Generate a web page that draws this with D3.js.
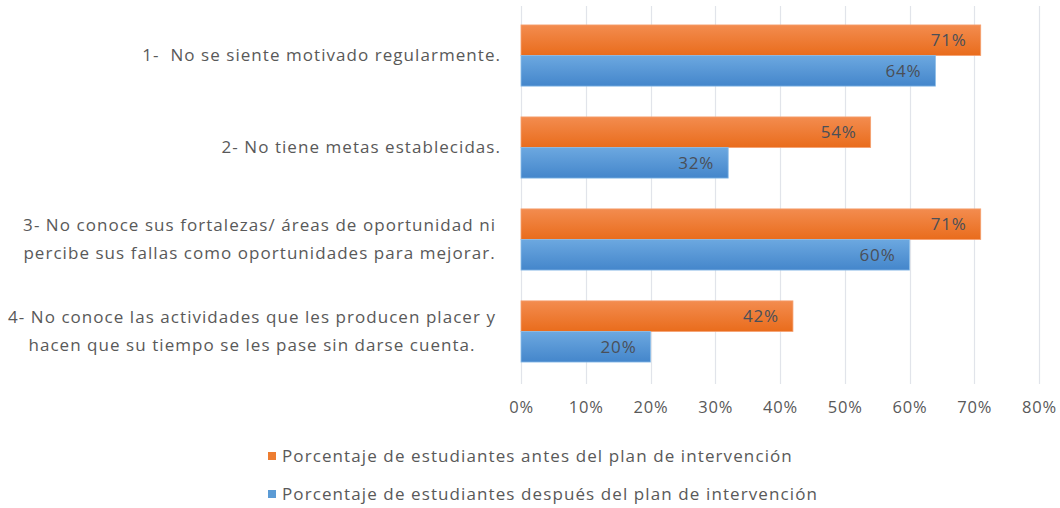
<!DOCTYPE html>
<html>
<head>
<meta charset="utf-8">
<script src="https://cdn.jsdelivr.net/npm/d3@7"></script>
<style>
  body { margin: 0; background: #fff; }
  svg { display: block; font-family: "Open Sans", "Noto Sans", sans-serif; }
  text { white-space: pre; }
</style>
</head>
<body>
<svg id="chart" width="1060" height="508"></svg>
<script>
const categories = [
    ['1-  No se siente motivado regularmente.'],
    ['2- No tiene metas establecidas.'],
    ['3- No conoce sus fortalezas/ áreas de oportunidad ni', 'percibe sus fallas como oportunidades para mejorar.'],
    ['4- No conoce las actividades que les producen placer y', 'hacen que su tiempo se les pase sin darse cuenta.']
];
const seriesNames = [
    'Porcentaje de estudiantes antes del plan de intervención',
    'Porcentaje de estudiantes después del plan de intervención'
];
const antes = [0.71, 0.54, 0.71, 0.42];
const despues = [0.64, 0.32, 0.60, 0.20];
const xTicks = [0, 0.1, 0.2, 0.3, 0.4, 0.5, 0.6, 0.7, 0.8];

const svg = d3.select('#chart');
const plotLeft = 521, plotRight = 1039, plotTop = 9.5, plotBottom = 377.5;
const gridBottom = 384;

const x = d3.scaleLinear().domain([0, 0.8]).range([plotLeft, plotRight]);
const y = d3.scaleBand().domain(d3.range(categories.length)).range([plotTop, plotBottom]).paddingInner(0.335).paddingOuter(0.168);
const sub = d3.scaleBand().domain([0, 1]).range([0, y.bandwidth()]);

const defs = svg.append('defs');
function grad(id, c1, c2) {
    const g = defs.append('linearGradient').attr('id', id).attr('x1', 0).attr('y1', 0).attr('x2', 0).attr('y2', 1);
    g.append('stop').attr('offset', '0%').attr('stop-color', c1);
    g.append('stop').attr('offset', '100%').attr('stop-color', c2);
}
grad('gOrange', '#F38C4F', '#E96C1C');
grad('gBlue', '#6CA8E0', '#4486CB');

// gridlines
svg.append('g')
    .selectAll('line')
    .data(xTicks)
    .enter().append('line')
    .attr('x1', d => Math.round(x(d)) + 0.5)
    .attr('x2', d => Math.round(x(d)) + 0.5)
    .attr('y1', 6)
    .attr('y2', gridBottom)
    .attr('stroke', '#E1E4EA')
    .attr('stroke-width', 1.2);

const series = [
    { values: antes, fill: 'url(#gOrange)', stroke: '#F5A070' },
    { values: despues, fill: 'url(#gBlue)', stroke: '#8BBCE8' }
];

series.forEach((s, si) => {
    const g = svg.append('g');
    g.selectAll('rect')
        .data(s.values)
        .enter().append('rect')
        .attr('x', x(0))
        .attr('y', (d, i) => y(i) + sub(si))
        .attr('width', d => x(d) - x(0))
        .attr('height', sub.bandwidth())
        .attr('fill', s.fill)
        .attr('stroke', s.stroke)
        .attr('stroke-width', 0.8);

    g.selectAll('text')
        .data(s.values)
        .enter().append('text')
        .attr('x', d => x(d) - 14)
        .attr('y', (d, i) => y(i) + sub(si) + sub.bandwidth() / 2)
        .attr('dy', '0.35em')
        .attr('text-anchor', 'end')
        .attr('fill', '#4A4F58')
        .attr('font-size', 17)
        .attr('letter-spacing', 0.8)
        .text(d => Math.round(d * 100) + '%');
});

// x tick labels
svg.append('g')
    .selectAll('text')
    .data(xTicks)
    .enter().append('text')
    .attr('x', d => x(d) + 0.5)
    .attr('y', 407)
    .attr('dy', '0.35em')
    .attr('text-anchor', 'middle')
    .attr('fill', '#595959')
    .attr('font-size', 16.5)
    .attr('letter-spacing', 0.8)
    .text(d => Math.round(d * 100) + '%');

// category labels: lines centred, block right-aligned to the axis
const lineH = 28;
categories.forEach((lines, i) => {
    const cy = y(i) + y.bandwidth() / 2;
    const g = svg.append('g');
    const texts = g.selectAll('text')
        .data(lines)
        .enter().append('text')
        .attr('y', (d, k) => cy + (k - (lines.length - 1) / 2) * lineH)
        .attr('dy', '0.35em')
        .attr('text-anchor', 'middle')
        .attr('fill', '#595959')
        .attr('font-size', 17)
        .attr('letter-spacing', 1.05)
        .text(d => d);
    let maxW = 0;
    texts.each(function () { maxW = Math.max(maxW, this.getComputedTextLength()); });
    const rightEdge = lines.length > 1 ? 496 : 501;
    texts.attr('x', rightEdge - maxW / 2);
});

// legend
const legend = svg.append('g');
const legendColors = ['#ED7D31', '#5B9BD5'];
const legendY = [456, 494];
seriesNames.forEach((name, i) => {
    legend.append('rect')
        .attr('x', 268)
        .attr('y', legendY[i] - 4)
        .attr('width', 8)
        .attr('height', 8)
        .attr('fill', legendColors[i]);
    legend.append('text')
        .attr('x', 282)
        .attr('y', legendY[i])
        .attr('dy', '0.35em')
        .attr('fill', '#595959')
        .attr('font-size', 17)
        .attr('letter-spacing', 1.1)
        .text(name);
});
</script>
</body>
</html>
